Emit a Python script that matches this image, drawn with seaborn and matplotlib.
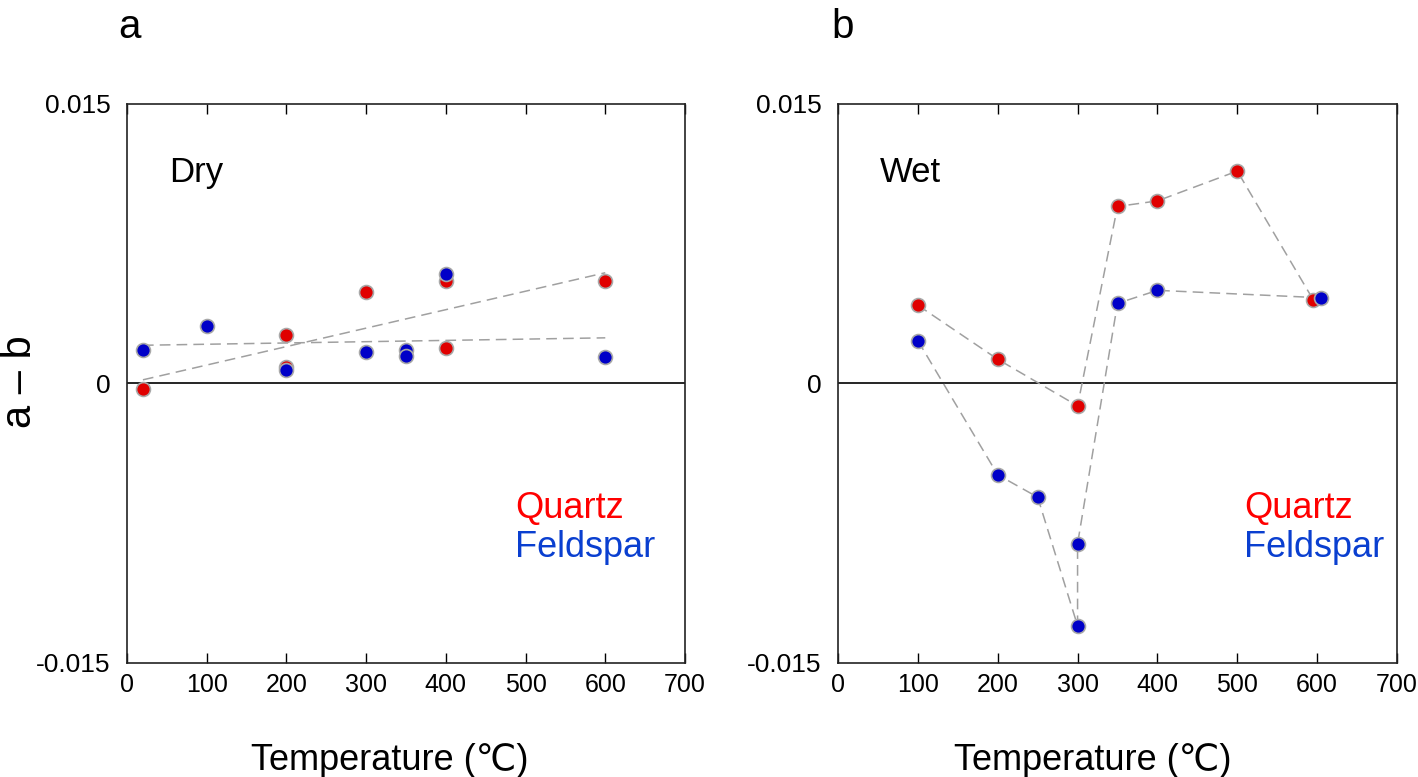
import matplotlib
matplotlib.use("Agg")
import matplotlib.pyplot as plt
import seaborn as sns
import numpy as np
import pandas as pd

sns.set_theme(style="white")
plt.rcParams['font.family'] = ['Liberation Sans', 'DejaVu Sans']
plt.rcParams['text.color'] = 'black'
plt.rcParams['axes.labelcolor'] = 'black'
plt.rcParams['xtick.color'] = 'black'
plt.rcParams['ytick.color'] = 'black'

# ---- Data: panel a (Dry) ----
dry_quartz_T = [20, 200, 200, 300, 400, 400, 600]
dry_quartz_v = [-0.0003, 0.0026, 0.0009, 0.0049, 0.0055, 0.0019, 0.0055]
dry_feld_T = [20, 100, 200, 300, 350, 350, 400, 600]
dry_feld_v = [0.0018, 0.0031, 0.0007, 0.0017, 0.0018, 0.0015, 0.0059, 0.0014]

# ---- Data: panel b (Wet), in connection order ----
wet_quartz_T = [100, 200, 300, 350, 400, 500, 595]
wet_quartz_v = [0.0042, 0.0013, -0.0012, 0.0095, 0.0098, 0.0114, 0.0045]
wet_feld_T = [100, 200, 250, 300, 300, 350, 400, 605]
wet_feld_v = [0.0023, -0.0049, -0.0061, -0.0130, -0.0086, 0.0043, 0.0050, 0.0046]

x_ticks = [0, 100, 200, 300, 400, 500, 600, 700]
y_ticks = [-0.015, 0, 0.015]
y_ticklabels = ["-0.015", "0", "0.015"]

RED = "#e00000"
BLUE = "#0000c8"
EDGE = "#a8a8a8"
LINE = "#a0a0a0"

fig = plt.figure(figsize=(14.18, 7.77), dpi=100)
ax_a = fig.add_axes([127/1418, 1-663/777, 558/1418, 559/777])
ax_b = fig.add_axes([838/1418, 1-663/777, 559/1418, 559/777])

dash = (0, (7, 4))

# Panel a
sns.regplot(x=dry_quartz_T, y=dry_quartz_v, ax=ax_a, scatter=False, ci=None,
            truncate=True, line_kws=dict(color=LINE, lw=1.1, linestyle=dash, zorder=2))
sns.regplot(x=dry_feld_T, y=dry_feld_v, ax=ax_a, scatter=False, ci=None,
            truncate=True, line_kws=dict(color=LINE, lw=1.1, linestyle=dash, zorder=2))
sns.scatterplot(x=dry_quartz_T, y=dry_quartz_v, ax=ax_a, color=RED, s=100,
                edgecolor=EDGE, linewidth=1.2, zorder=3)
sns.scatterplot(x=dry_feld_T, y=dry_feld_v, ax=ax_a, color=BLUE, s=100,
                edgecolor=EDGE, linewidth=1.2, zorder=3)

# Panel b
dq = pd.DataFrame({"T": wet_quartz_T, "v": wet_quartz_v})
df_ = pd.DataFrame({"T": wet_feld_T, "v": wet_feld_v})
sns.lineplot(data=dq, x="T", y="v", ax=ax_b, sort=False, estimator=None,
             color=LINE, lw=1.1, linestyle=dash, zorder=2)
sns.lineplot(data=df_, x="T", y="v", ax=ax_b, sort=False, estimator=None,
             color=LINE, lw=1.1, linestyle=dash, zorder=2)
sns.scatterplot(data=dq, x="T", y="v", ax=ax_b, color=RED, s=100,
                edgecolor=EDGE, linewidth=1.2, zorder=3)
sns.scatterplot(data=df_, x="T", y="v", ax=ax_b, color=BLUE, s=100,
                edgecolor=EDGE, linewidth=1.2, zorder=3)

panels = [(ax_a, "Dry", 0.695, 0.471), (ax_b, "Wet", 0.726, 0.455)]
for ax, cond, legx, labx in panels:
    ax.set_xlim(0, 700)
    ax.set_ylim(-0.015, 0.015)
    ax.axhline(0, color="black", lw=1.2, zorder=1)
    ax.set_xticks(x_ticks)
    ax.set_xticklabels([str(t) for t in x_ticks], fontsize=18)
    ax.set_yticks(y_ticks)
    ax.set_yticklabels(y_ticklabels, fontsize=19)
    ax.tick_params(axis="x", direction="in", length=7, width=1, top=True,
                   bottom=True, pad=7)
    ax.tick_params(axis="y", length=0, pad=12)
    for sp in ax.spines.values():
        sp.set_visible(True)
        sp.set_color("#222222")
        sp.set_linewidth(1.2)
    ax.set_xlabel("Temperature (\u2103)", fontsize=26)
    ax.xaxis.set_label_coords(labx, -0.143)
    ax.set_ylabel("")
    ax.text(0.075, 0.878, cond, transform=ax.transAxes, fontsize=25,
            ha="left", va="center")
    ax.text(legx, 0.277, "Quartz", transform=ax.transAxes, fontsize=26,
            color="#ff0000", ha="left", va="center")
    ax.text(legx, 0.206, "Feldspar", transform=ax.transAxes, fontsize=26,
            color="#0a3fd0", ha="left", va="center")
    ax.grid(False)

fig.text(130/1418, 1-38/777, "a", fontsize=29, ha="center", va="baseline")
fig.text(843/1418, 1-38/777, "b", fontsize=29, ha="center", va="baseline")
fig.text(20/1418, 1-382/777, "a \u2013 b", fontsize=30, rotation=90,
         ha="center", va="center")

fig.savefig("out.png", dpi=100)
